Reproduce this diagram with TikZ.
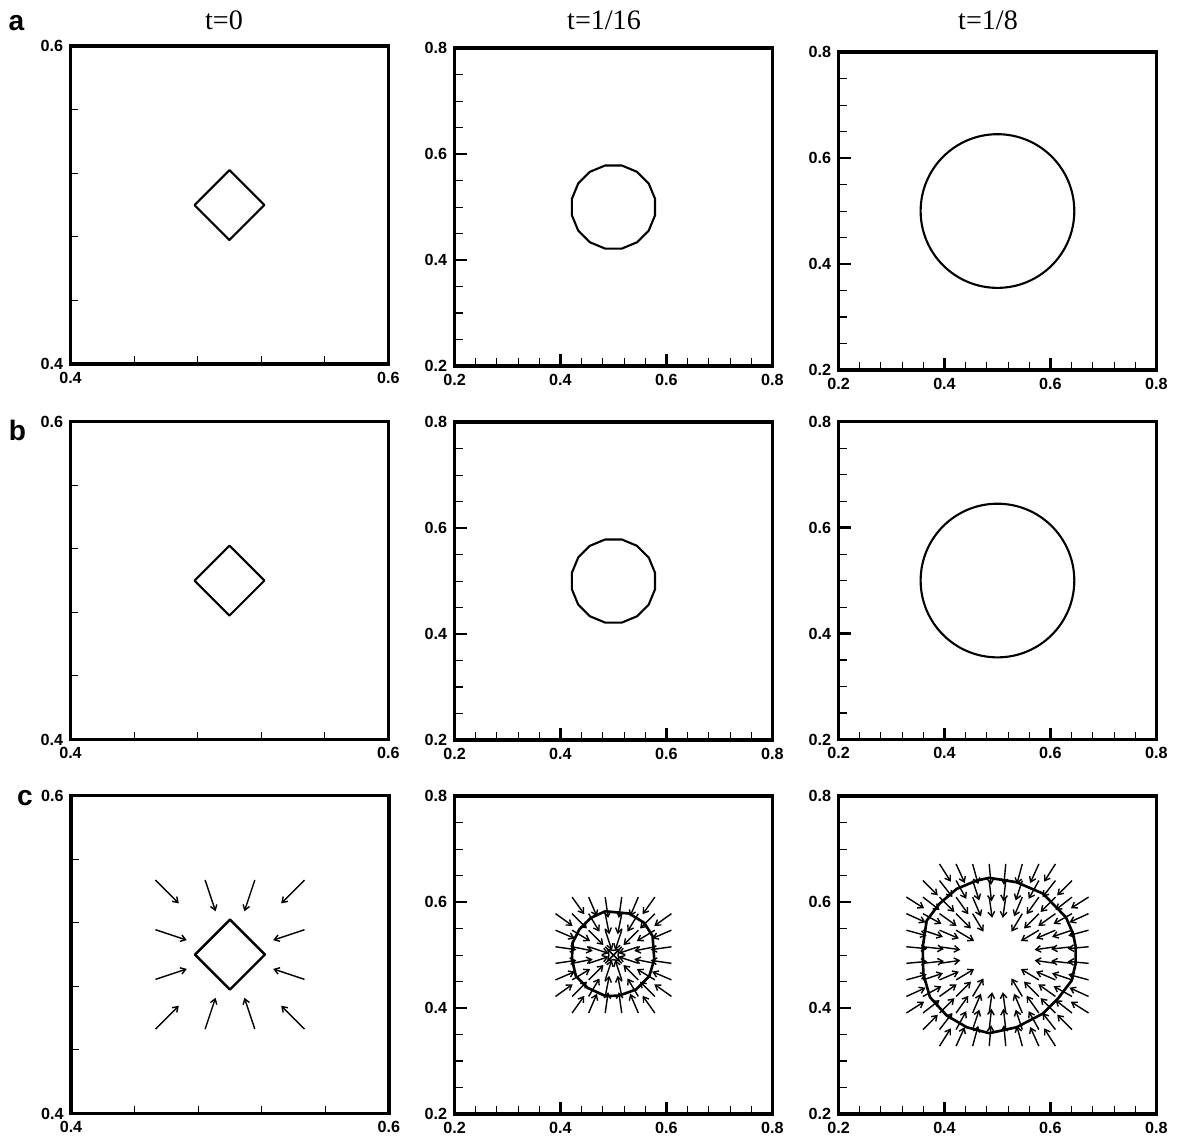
\documentclass[tikz,border=0pt]{standalone}
\usepackage{fontspec}
\setmainfont{Liberation Serif}
\setsansfont{Liberation Sans}
\usetikzlibrary{arrows.meta}

\tikzset{
  frame/.style={line width=1.9pt},
  minortick/.style={line width=0.6pt},
  majortick/.style={line width=1.6pt},
  contour/.style={line width=1.2pt, line join=round},
  vec/.style={line width=0.8pt, -{Straight Barb[length=2.8pt,width=3.8pt]}},
  ticklab/.style={inner sep=0pt, font=\sffamily\bfseries\fontsize{9.2}{11}\selectfont},
  ylab/.style={ticklab, anchor=east, xshift=-0.14cm},
  xlab/.style={ticklab, anchor=north, yshift=-0.15cm},
  title/.style={anchor=base, font=\fontsize{16}{19}\selectfont},
  letter/.style={anchor=base, font=\sffamily\bfseries\fontsize{16}{19}\selectfont},
  smallpanel/.style={x=31.8cm, y=31.8cm, shift={(-0.4,-0.4)}},
  bigpanel/.style={x=10.6cm, y=10.6cm, shift={(-0.2,-0.2)}},
}

% frame, ticks and labels of a 0.4..0.6 panel
\newcommand{\smallaxes}[1]{%
  \draw[frame] (0.4,0.4) rectangle (0.6,0.6);
  \foreach \t in {0.44,0.48,0.52,0.56} {
    \draw[minortick] (\t,0.4) -- ++(0,0.16cm);
    \draw[minortick] (0.4,\t) -- ++(0.16cm,0);
  }
  \node[ylab] (#1-y6) at (0.4,0.6) {0.6};
  \node[ylab] (#1-y4) at (0.4,0.4) {0.4};
  \node[xlab] (#1-x4) at (0.4,0.4) {0.4};
  \node[xlab] (#1-x6) at (0.6,0.4) {0.6};
}

% frame, ticks and labels of a 0.2..0.8 panel
\newcommand{\bigaxes}[1]{%
  \draw[frame] (0.2,0.2) rectangle (0.8,0.8);
  \foreach \t in {0.24,0.28,0.32,0.36,0.44,0.48,0.52,0.56,0.64,0.68,0.72,0.76}
    \draw[minortick] (\t,0.2) -- ++(0,0.16cm);
  \foreach \t in {0.25,0.3,0.35,0.45,0.5,0.55,0.65,0.7,0.75}
    \draw[minortick] (0.2,\t) -- ++(0.16cm,0);
  \foreach \t in {0.4,0.6} {
    \draw[majortick] (\t,0.2) -- ++(0,0.24cm);
    \draw[majortick] (0.2,\t) -- ++(0.24cm,0);
  }
  \foreach \t/\n in {0.2/2,0.4/4,0.6/6,0.8/8} {
    \node[xlab] (#1-x\n) at (\t,0.2) {\t};
    \node[ylab] (#1-y\n) at (0.2,\t) {\t};
  }
}

\begin{document}
\begin{tikzpicture}[x=0.02cm, y=-0.02cm]
  \useasboundingbox (0,0) rectangle (1177,1137);

  % column titles and row letters
  \node[title] (ttl0) at (224,29.5) {t=0};
  \node[title] (ttl1) at (604,29.5) {t=1/16};
  \node[title] (ttl2) at (988,29.5) {t=1/8};
  \node[letter] (rowa) at (16.5,30) {a};
  \node[letter] (rowb) at (17.5,440) {b};
  \node[letter] (rowc) at (25,805) {c};

  % row a
  \begin{scope}[shift={(70.5,364)}, smallpanel]
    \smallaxes{a1}
    \draw[contour] (0.478,0.5) -- (0.5,0.522) -- (0.522,0.5) -- (0.5,0.478) -- cycle;
  \end{scope}
  \begin{scope}[shift={(454.5,366)}, bigpanel]
    \bigaxes{a2}
    \draw[contour] plot[samples=17, domain=11.25:371.25] ({0.5+0.08*cos(\x)}, {0.5+0.08*sin(\x)}) -- cycle;
  \end{scope}
  \begin{scope}[shift={(838.5,370)}, bigpanel]
    \bigaxes{a3}
    \draw[contour] (0.5,0.5) circle[radius=0.145];
  \end{scope}

  % row b
  \begin{scope}[shift={(70.5,739.5)}, smallpanel]
    \smallaxes{b1}
    \draw[contour] (0.478,0.5) -- (0.5,0.522) -- (0.522,0.5) -- (0.5,0.478) -- cycle;
  \end{scope}
  \begin{scope}[shift={(454.5,740)}, bigpanel]
    \bigaxes{b2}
    \draw[contour] plot[samples=17, domain=11.25:371.25] ({0.5+0.08*cos(\x)}, {0.5+0.08*sin(\x)}) -- cycle;
  \end{scope}
  \begin{scope}[shift={(838.5,739.5)}, bigpanel]
    \bigaxes{b3}
    \draw[contour] (0.5,0.5) circle[radius=0.145];
  \end{scope}

  % row c, with the velocity vectors
  \begin{scope}[shift={(71,1113.5)}, smallpanel]
    \smallaxes{c1}
    \foreach \i in {-3,-1,1,3}
      \foreach \j in {-3,-1,1,3} {
        \pgfmathtruncatemacro\keep{abs(\i)+abs(\j)>2}
        \ifnum\keep=1
          \draw[vec] ({0.5+\i/64},{0.5+\j/64}) -- ++({atan2(-\j,-\i)}:0.66cm);
        \fi
      }
    \draw[contour, line width=1.4pt] (0.478,0.5) -- (0.5,0.522) -- (0.522,0.5) -- (0.5,0.478) -- cycle;
  \end{scope}
  \begin{scope}[shift={(454.5,1114)}, bigpanel]
    \bigaxes{c2}
    \foreach \i in {-3.5,-2.5,...,3.5}
      \foreach \j in {-3.5,-2.5,...,3.5} {
        \pgfmathtruncatemacro\keep{abs(\i)+abs(\j)<6.5}
        \ifnum\keep=1
          \draw[vec] ({0.5+\i/32},{0.5+\j/32}) -- ++({atan2(-\j,-\i)}:0.42cm);
        \fi
      }
    \draw[contour, line width=1.5pt] (0.4845,0.5826) -- (0.5298,0.5783) -- (0.5581,0.5608)
      -- (0.5738,0.5355) -- (0.5770,0.4915) -- (0.5675,0.46) -- (0.5425,0.4349)
      -- (0.5109,0.4236) -- (0.4858,0.4223) -- (0.4511,0.4381) -- (0.4292,0.46)
      -- (0.4217,0.4915) -- (0.4228,0.523) -- (0.4355,0.5481) -- (0.4575,0.5702) -- cycle;
  \end{scope}
  \begin{scope}[shift={(838.5,1114)}, bigpanel]
    \bigaxes{c3}
    \foreach \i in {-5.5,-4.5,...,5.5}
      \foreach \j in {-5.5,-4.5,...,5.5} {
        \pgfmathtruncatemacro\keep{(abs(\i)+abs(\j)<9.5) && (veclen(\i,\j)>2.7)}
        \ifnum\keep=1
          \draw[vec] ({0.5+\i/32},{0.5+\j/32}) -- ++({atan2(-\j,-\i)}:0.42cm);
        \fi
      }
    \draw[contour, line width=1.5pt] (0.4845,0.6457) -- (0.5362,0.6374) -- (0.5858,0.6160)
      -- (0.6292,0.5713) -- (0.6425,0.5406) -- (0.6475,0.5160) -- (0.6475,0.4840)
      -- (0.6400,0.4519) -- (0.6142,0.4179) -- (0.5858,0.3896) -- (0.5362,0.3638)
      -- (0.4845,0.3525) -- (0.4419,0.3638) -- (0.4042,0.3858) -- (0.3726,0.4204)
      -- (0.3600,0.4645) -- (0.3589,0.5147) -- (0.3664,0.5651) -- (0.3902,0.5966)
      -- (0.4230,0.6249) -- (0.4608,0.6406) -- cycle;
  \end{scope}
\end{tikzpicture}
\end{document}
